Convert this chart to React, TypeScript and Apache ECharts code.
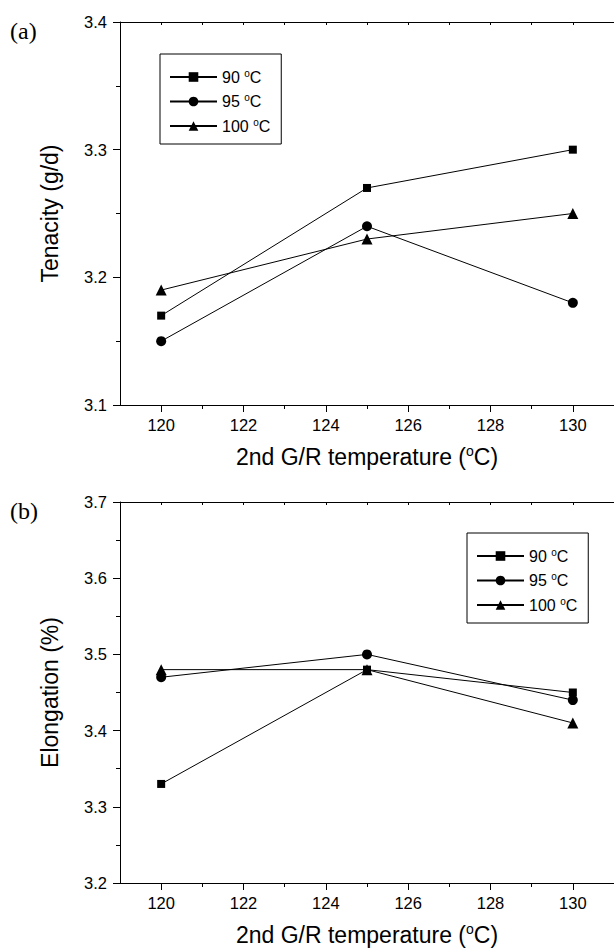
import React, { useEffect, useRef } from 'react';
import * as echarts from 'echarts';

const temps = [120, 125, 130];
const seriesNames = ['90 °C', '95 °C', '100 °C'];
const seriesSymbols = ['rect', 'circle', 'triangle'];
const symbolSizes = [8, 10, 11];
const tenacity90 = [3.17, 3.27, 3.3];
const tenacity95 = [3.15, 3.24, 3.18];
const tenacity100 = [3.19, 3.23, 3.25];
const elong90 = [3.33, 3.48, 3.45];
const elong95 = [3.47, 3.5, 3.44];
const elong100 = [3.48, 3.48, 3.41];
const xMajorTicks = [120, 122, 124, 126, 128, 130];
const xMinorTicks = [121, 123, 125, 127, 129, 131];

const FONT = '"Liberation Sans", Arial, sans-serif';
const BLACK = '#000';

function xAxesFor(gridIndex: number) {
  const line = { color: BLACK, width: 1 };
  return [
    {
      type: 'value', gridIndex, min: 119, max: 131, interval: 1, position: 'bottom',
      axisLine: { show: true, onZero: false, lineStyle: line },
      axisTick: { show: true, inside: false, length: 7, customValues: xMajorTicks, lineStyle: line },
      axisLabel: { customValues: xMajorTicks, margin: 11, fontSize: 16.5, color: BLACK, fontFamily: FONT },
      splitLine: { show: false },
      name: '2nd G/R temperature ({s|o}C)',
      nameLocation: 'middle', nameGap: 39,
      nameTextStyle: {
        fontSize: 23, color: BLACK, fontFamily: FONT, lineHeight: 26,
        rich: { s: { fontSize: 14, verticalAlign: 'top', lineHeight: 14, color: BLACK, fontFamily: FONT } },
      },
    },
    {
      type: 'value', gridIndex, min: 119, max: 131, interval: 1, position: 'bottom',
      axisLine: { show: false, onZero: false },
      axisTick: { show: true, inside: false, length: 4, customValues: xMinorTicks, lineStyle: line },
      axisLabel: { show: false },
      splitLine: { show: false },
    },
    {
      type: 'value', gridIndex, min: 119, max: 131, interval: 1, position: 'top',
      axisLine: { show: true, onZero: false, lineStyle: line },
      axisTick: { show: true, inside: true, length: 3, lineStyle: line },
      axisLabel: { show: false },
      splitLine: { show: false },
    },
  ];
}

function yAxisFor(gridIndex: number, min: number, max: number, name: string) {
  const line = { color: BLACK, width: 1 };
  return {
    type: 'value', gridIndex, min, max, interval: 0.1, position: 'left',
    axisLine: { show: true, onZero: false, lineStyle: line },
    axisTick: { show: true, inside: false, length: 7, lineStyle: line },
    minorTick: { show: true, splitNumber: 2, length: 4, lineStyle: line },
    axisLabel: { margin: 13, fontSize: 16.5, color: BLACK, fontFamily: FONT, formatter: (v: number) => v.toFixed(1) },
    splitLine: { show: false },
    minorSplitLine: { show: false },
    name, nameLocation: 'middle', nameGap: 59,
    nameTextStyle: { fontSize: 23, color: BLACK, fontFamily: FONT },
  };
}

function legendFor(left: number, top: number) {
  return {
    orient: 'vertical', left, top,
    padding: [14, 11, 10, 9],
    borderColor: BLACK, borderWidth: 1, borderRadius: 0,
    backgroundColor: '#fff',
    itemWidth: 47, itemHeight: 12, itemGap: 7.5,
    data: seriesNames,
    selectedMode: false,
    formatter: (name: string) => `{t|${name.split(' ')[0]} }{s|o}{t|C}`,
    textStyle: {
      fontSize: 16, color: BLACK, fontFamily: FONT,
      rich: {
        t: { fontSize: 16, lineHeight: 18, color: BLACK, fontFamily: FONT },
        s: { fontSize: 10, lineHeight: 10, verticalAlign: 'top', color: BLACK, fontFamily: FONT },
      },
    },
  };
}

function lineSeries(name: string, idx: number, values: number[], xAxisIndex: number, yAxisIndex: number) {
  return {
    type: 'line', name, xAxisIndex, yAxisIndex,
    data: temps.map((t, i) => [t, values[i]]),
    symbol: seriesSymbols[idx], symbolSize: symbolSizes[idx],
    itemStyle: { color: BLACK },
    lineStyle: { color: BLACK, width: 1 },
    showSymbol: true,
    z: 3,
  };
}

export default function App() {
  const ref = useRef<HTMLDivElement>(null);
  useEffect(() => {
    document.body.style.margin = '0';
    if (!ref.current) return;
    const chart = echarts.init(ref.current, undefined, { renderer: 'svg' });
    const option = {
      animation: false,
      backgroundColor: '#fff',
      grid: [
        { left: 120, top: 22, right: -10, height: 383 },
        { left: 120, top: 502, right: -10, height: 381 },
      ],
      xAxis: [...xAxesFor(0), ...xAxesFor(1)],
      yAxis: [
        yAxisFor(0, 3.1, 3.4, 'Tenacity (g/d)'),
        yAxisFor(1, 3.2, 3.7, 'Elongation (%)'),
      ],
      legend: [legendFor(160, 54), legendFor(467, 533)],
      graphic: [
        { type: 'text', left: 10, top: 19, style: { text: '(a)', font: '24px "Liberation Serif", serif', fill: BLACK } },
        { type: 'text', left: 10, top: 499, style: { text: '(b)', font: '24px "Liberation Serif", serif', fill: BLACK } },
      ],
      series: [
        lineSeries(seriesNames[0], 0, tenacity90, 0, 0),
        lineSeries(seriesNames[1], 1, tenacity95, 0, 0),
        lineSeries(seriesNames[2], 2, tenacity100, 0, 0),
        lineSeries(seriesNames[0], 0, elong90, 3, 1),
        lineSeries(seriesNames[1], 1, elong95, 3, 1),
        lineSeries(seriesNames[2], 2, elong100, 3, 1),
      ],
    };
    chart.setOption(option as any);
    return () => chart.dispose();
  }, []);
  return <div ref={ref} style={{ position: 'fixed', left: 0, top: 0, width: 614, height: 949 }} />;
}
